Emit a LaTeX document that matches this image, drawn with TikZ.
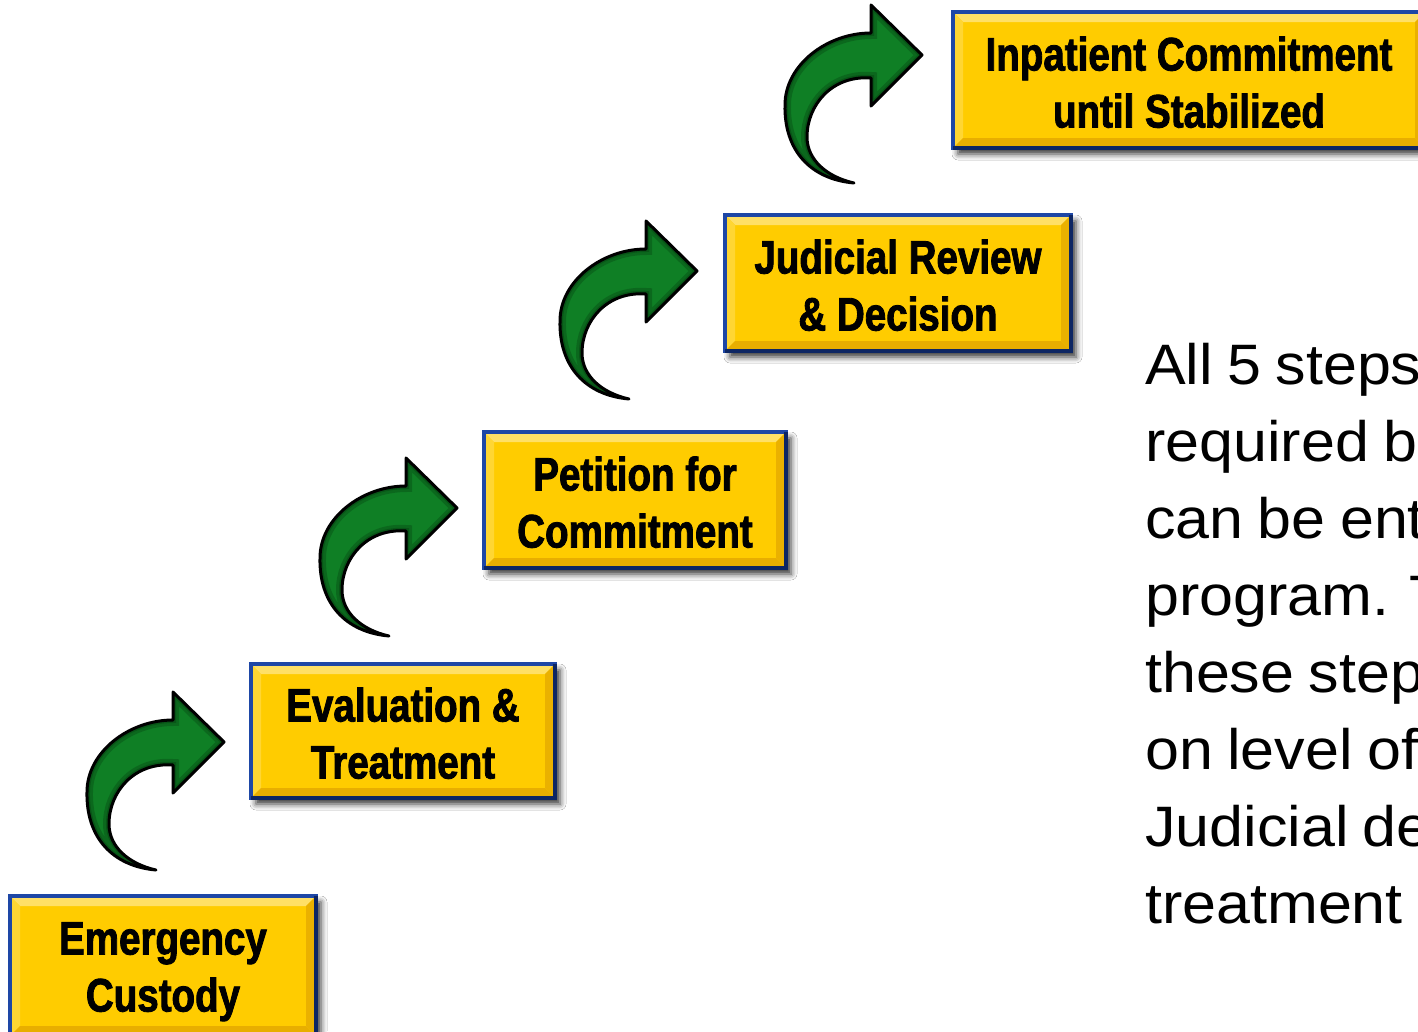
\documentclass[tikz,border=0pt]{standalone}
\usepackage{fontspec}
\usetikzlibrary{shadows.blur,calc}
\newfontfamily\boxfont[FakeStretch=0.82,BoldFeatures={FakeBold=1.8}]{Liberation Sans}
\newfontfamily\bodyfont[FakeStretch=1.07,WordSpace=0.85]{Liberation Sans}
\definecolor{gold}{HTML}{FFCC00}
\definecolor{goldlight}{HTML}{FFE066}
\definecolor{goldmid}{HTML}{FFD633}
\definecolor{golddark}{HTML}{E8AE00}
\definecolor{boxblue}{HTML}{1E47A6}
\definecolor{boxnavy}{HTML}{0D2663}
\definecolor{arrowgreen}{HTML}{0F7F25}
\definecolor{arrowdark}{HTML}{053F10}
% curved arrow outline, tip at the origin (y grows downwards)
\newcommand\arrowshape{(0,0) -- (-51,51) -- (-51,23)
  .. controls (-90,20) and (-115,50) .. (-115,82)
  .. controls (-115,105) and (-95,122) .. (-68,128)
  .. controls (-112,124) and (-138,95) .. (-137,50)
  .. controls (-137,10) and (-95,-22) .. (-51,-22)
  -- (-51,-50) -- cycle}
\newcommand\greenarrow[1]{%
  \begin{scope}[shift={(#1)}]
    \fill[arrowgreen] \arrowshape;
    \begin{scope}
      \clip \arrowshape;
      \draw[arrowdark, line width=12pt, opacity=0.35] \arrowshape;
      \draw[arrowdark, line width=6pt, opacity=0.45] \arrowshape;
    \end{scope}
    \draw[black, line width=3pt, line join=round] \arrowshape;
  \end{scope}}
\begin{document}
\begin{tikzpicture}[x=1pt,y=-1pt,
  stepbox/.style={draw=boxblue, line width=4pt, fill=gold, inner sep=0pt,
    blur shadow={shadow xshift=5pt, shadow yshift=-6pt, shadow blur radius=6pt, shadow opacity=80}},
  steptext/.style={anchor=base, inner sep=0pt, font=\boxfont\bfseries\fontsize{47}{57}\selectfont},
  bodyline/.style={anchor=base west, inner sep=0pt, font=\bodyfont\fontsize{57}{77}\selectfont}]
\useasboundingbox (0,0) rectangle (1418,1031);
\clip (0,0) rectangle (1418,1031);
\fill[white] (0,0) rectangle (1418,1031);

% step boxes
\node (b1) [stepbox, minimum width=306, minimum height=140] at (163,966) {};
\node (b2) [stepbox, minimum width=304, minimum height=134] at (403,731) {};
\node (b3) [stepbox, minimum width=302, minimum height=136] at (635,500) {};
\node (b4) [stepbox, minimum width=346, minimum height=136] at (898,283) {};
\node (b5) [stepbox, minimum width=472, minimum height=136] at (1189,80) {};

% bevelled inner rim and darker lower-right border
\foreach \n in {b1,b2,b3,b4,b5}{
  \fill[goldlight] ($(\n.north west)+(4,4)$) -- ($(\n.north east)+(-4,4)$)
    -- ($(\n.north east)+(-12,12)$) -- ($(\n.north west)+(12,12)$) -- cycle;
  \fill[goldmid] ($(\n.north west)+(4,4)$) -- ($(\n.north west)+(12,12)$)
    -- ($(\n.south west)+(12,-12)$) -- ($(\n.south west)+(4,-4)$) -- cycle;
  \fill[golddark] ($(\n.south west)+(4,-4)$) -- ($(\n.south west)+(12,-12)$)
    -- ($(\n.south east)+(-12,-12)$) -- ($(\n.south east)+(-4,-4)$) -- cycle;
  \fill[golddark!90!gold] ($(\n.north east)+(-4,4)$) -- ($(\n.south east)+(-4,-4)$)
    -- ($(\n.south east)+(-12,-12)$) -- ($(\n.north east)+(-12,12)$) -- cycle;
  \draw[boxnavy, line width=4pt] ($(\n.north east)+(-2,2)$) -- ($(\n.south east)+(-2,-2)$)
    -- ($(\n.south west)+(2,-2)$);
}

% step labels
\node (t1a) [steptext] at (163,954.5) {Emergency};
\node (t1b) [steptext] at (163,1011.5) {Custody};
\node (t2a) [steptext] at ($(b2.center)+(0,-9.5)$) {Evaluation \&};
\node (t2b) [steptext] at ($(b2.center)+(0,47.5)$) {Treatment};
\node (t3a) [steptext] at ($(b3.center)+(0,-9.5)$) {Petition for};
\node (t3b) [steptext] at ($(b3.center)+(0,47.5)$) {Commitment};
\node (t4a) [steptext] at ($(b4.center)+(0,-9.5)$) {Judicial Review};
\node (t4b) [steptext] at ($(b4.center)+(0,47.5)$) {\& Decision};
\node (t5a) [steptext] at ($(b5.center)+(0,-9.5)$) {Inpatient Commitment};
\node (t5b) [steptext] at ($(b5.center)+(0,47.5)$) {until Stabilized};

% curved arrows climbing from step to step
\coordinate (tip2) at (224,742);
\coordinate (tip3) at (457,508);
\coordinate (tip4) at (697,271);
\coordinate (tip5) at (922,55);
\greenarrow{tip2}
\greenarrow{tip3}
\greenarrow{tip4}
\greenarrow{tip5}

% side note
\node (n1) [bodyline] at (1145,384) {All 5 steps};
\node (n2) [bodyline] at (1145,461) {required b};
\node (n3) [bodyline] at (1145,538) {can be ent};
\node (n4) [bodyline] at (1145,615) {program. T};
\node (n5) [bodyline] at (1145,692) {these step};
\node (n6) [bodyline] at (1145,769) {on level of};
\node (n7) [bodyline] at (1145,846) {Judicial de};
\node (n8) [bodyline] at (1145,923) {treatment};
\end{tikzpicture}
\end{document}
